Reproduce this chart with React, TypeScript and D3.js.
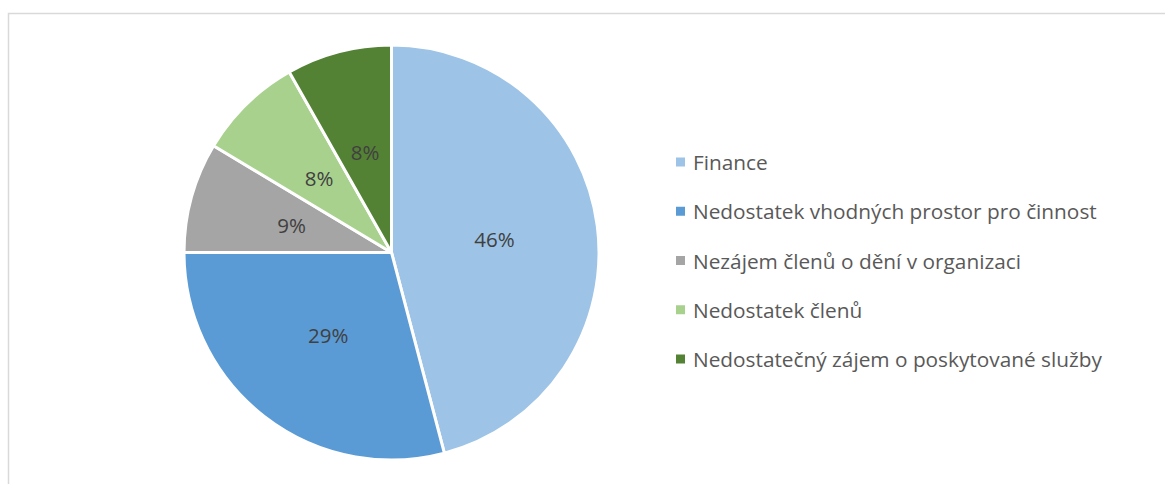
import React from 'react';
import * as d3 from 'd3';

// chart data
const categories = [
  'Finance',
  'Nedostatek vhodných prostor pro činnost',
  'Nezájem členů o dění v organizaci',
  'Nedostatek členů',
  'Nedostatečný zájem o poskytované služby',
];
const values = [45.9, 29.1, 8.6, 8.2, 8.2];
const colors = ['#9DC3E6', '#5B9BD5', '#A5A5A5', '#A9D18E', '#548235'];

const W = 1165;
const H = 484;

const App = () => {
  const cx = 391.5;
  const cy = 252.5;
  const radius = 207.5;

  const total = d3.sum(values);
  const pie = d3.pie<number>().sort(null).value(d => d);
  const arcs = pie(values);
  const arc = d3.arc<d3.PieArcDatum<number>>().innerRadius(0).outerRadius(radius);
  const labelArc = d3.arc<d3.PieArcDatum<number>>().innerRadius(radius).outerRadius(radius);

  // legend layout
  const legendX = 676;
  const legendY = d3.scalePoint<number>().domain(d3.range(categories.length)).range([162, 359]);

  const font = "'Open Sans', sans-serif";

  return (
    <svg
      width={W}
      height={H}
      style={{ position: 'absolute', left: 0, top: 0, background: '#fff' }}
    >
      {/* chart frame */}
      <rect x={8.5} y={13.5} width={W + 20} height={H + 20} fill="none" stroke="#D9D9D9" strokeWidth={1.5} />

      <g transform={`translate(${cx},${cy})`}>
        {arcs.map((a, i) => (
          <path key={i} d={arc(a) || ''} fill={colors[i]} stroke="#fff" strokeWidth={3} strokeLinejoin="round" />
        ))}
        {arcs.map((a, i) => {
          const [x, y] = labelArc.centroid(a);
          return (
            <text
              key={i}
              x={x / 2}
              y={y / 2}
              textAnchor="middle"
              dominantBaseline="central"
              fontFamily={font}
              fontSize={20.5}
              fill="#404040"
            >
              {Math.round((a.value / total) * 100)}%
            </text>
          );
        })}
      </g>

      <g>
        {categories.map((c, i) => (
          <g key={c} transform={`translate(${legendX},${legendY(i)})`}>
            <rect x={0} y={-4.5} width={9} height={9} fill={colors[i]} />
            <text x={17} y={0} dominantBaseline="central" fontFamily={font} fontSize={20.8} fill="#595959">
              {c}
            </text>
          </g>
        ))}
      </g>
    </svg>
  );
};

export default App;
